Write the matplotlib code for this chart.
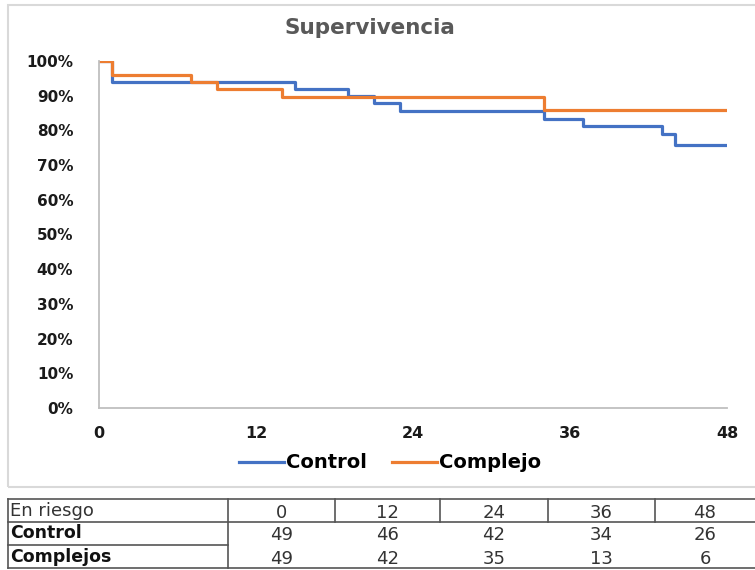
import matplotlib
matplotlib.use("Agg")
import matplotlib.pyplot as plt
from matplotlib.lines import Line2D
from matplotlib.patches import Rectangle

plt.rcParams['font.family'] = ['DejaVu Sans']

# Kaplan-Meier step data (months, survival fraction)
control_t = [0, 1, 15, 19, 21, 23, 34, 37, 43, 44, 48]
control_s = [1.0, 0.939, 0.918, 0.898, 0.878, 0.857, 0.834, 0.812, 0.789, 0.759, 0.759]
complejo_t = [0, 1, 7, 9, 14, 34, 48]
complejo_s = [1.0, 0.959, 0.939, 0.918, 0.895, 0.859, 0.859]

x_ticks = [0, 12, 24, 36, 48]
y_ticks = [0, 0.1, 0.2, 0.3, 0.4, 0.5, 0.6, 0.7, 0.8, 0.9, 1.0]

# Numbers at risk
risk_header = ["En riesgo", "0", "12", "24", "36", "48"]
risk_rows = ["Control", "Complejos"]
risk_control = [49, 46, 42, 34, 26]
risk_complejos = [49, 42, 35, 13, 6]

BLUE = "#4472C4"
ORANGE = "#ED7D31"
W, H = 755, 570

fig = plt.figure(figsize=(W / 100, H / 100), dpi=100)

def fx(px):
    return px / W

def fy(py):
    return 1 - py / H

# chart frame
fig.patches.append(Rectangle((fx(8), fy(487)), fx(760) - fx(8), fy(5) - fy(487),
                             transform=fig.transFigure, fill=False,
                             edgecolor="#d9d9d9", linewidth=1.5))

ax = fig.add_axes([fx(99), fy(408), fx(727) - fx(99), fy(61) - fy(408)])
ax.step(control_t, control_s, where="post", color=BLUE, lw=2.3, label="Control")
ax.step(complejo_t, complejo_s, where="post", color=ORANGE, lw=2.3, label="Complejo")
ax.set_xlim(0, 48)
ax.set_ylim(0, 1.0)
ax.set_xticks(x_ticks)
ax.set_xticklabels([str(v) for v in x_ticks], fontsize=11.5, fontweight="bold")
ax.set_yticks(y_ticks)
ax.set_yticklabels([f"{int(round(v * 100))}%" for v in y_ticks], fontsize=11, fontweight="bold")
ax.tick_params(axis="y", length=0, pad=18.5)
ax.tick_params(axis="x", length=0, pad=13)
for s in ("top", "right"):
    ax.spines[s].set_visible(False)
for s in ("left", "bottom"):
    ax.spines[s].set_color("#bfbfbf")
    ax.spines[s].set_linewidth(1.3)
for lbl in ax.get_yticklabels() + ax.get_xticklabels():
    lbl.set_color("#1a1a1a")

fig.text(fx(370), fy(28), "Supervivencia", ha="center", va="center",
         fontsize=15.5, fontweight="bold", color="#595959")

handles = [Line2D([], [], color=BLUE, lw=2.3), Line2D([], [], color=ORANGE, lw=2.3)]
fig.legend(handles, ["Control", "Complejo"], loc="center", bbox_to_anchor=(fx(390), fy(463)),
           ncol=2, frameon=False, handlelength=2.3, handletextpad=0.1, columnspacing=1.3,
           prop={"weight": "bold", "size": 14})

# at-risk table
tab = fig.add_axes([0, 0, 1, 1], facecolor="none")
tab.set_xlim(0, W)
tab.set_ylim(H, 0)
tab.axis("off")
col_edges = [8, 228, 335, 440, 548, 655, 760]
row_edges = [499, 522, 545, 568]
lc = "#555555"
lw = 1.2
tab.plot([8, 760], [row_edges[0]] * 2, color=lc, lw=lw)
tab.plot([8, 760], [row_edges[1]] * 2, color=lc, lw=lw)
tab.plot([8, 228], [row_edges[2]] * 2, color=lc, lw=lw)
tab.plot([8, 760], [row_edges[3]] * 2, color=lc, lw=lw)
tab.plot([8, 8], [row_edges[0], row_edges[3]], color=lc, lw=lw)
tab.plot([228, 228], [row_edges[0], row_edges[3]], color=lc, lw=lw)
for x in col_edges[2:-1]:
    tab.plot([x, x], [row_edges[0], row_edges[1]], color=lc, lw=lw)

def cy(i):
    return (row_edges[i] + row_edges[i + 1]) / 2

tab.text(10, cy(0) + 1, risk_header[0], ha="left", va="center", fontsize=13, color="#333333")
for j, h in enumerate(risk_header[1:]):
    cx = (col_edges[j + 1] + min(col_edges[j + 2], 755)) / 2
    tab.text(cx, cy(0) + 2, h, ha="center", va="center", fontsize=13, color="#333333")
for i, (name, vals) in enumerate(zip(risk_rows, [risk_control, risk_complejos])):
    tab.text(10, cy(i + 1), name, ha="left", va="center", fontsize=12.5,
             fontweight="bold", color="#111111")
    for j, v in enumerate(vals):
        cx = (col_edges[j + 1] + min(col_edges[j + 2], 755)) / 2
        tab.text(cx, cy(i + 1) + 2, str(v), ha="center", va="center", fontsize=13, color="#333333")

fig.savefig("out.png", dpi=100)
